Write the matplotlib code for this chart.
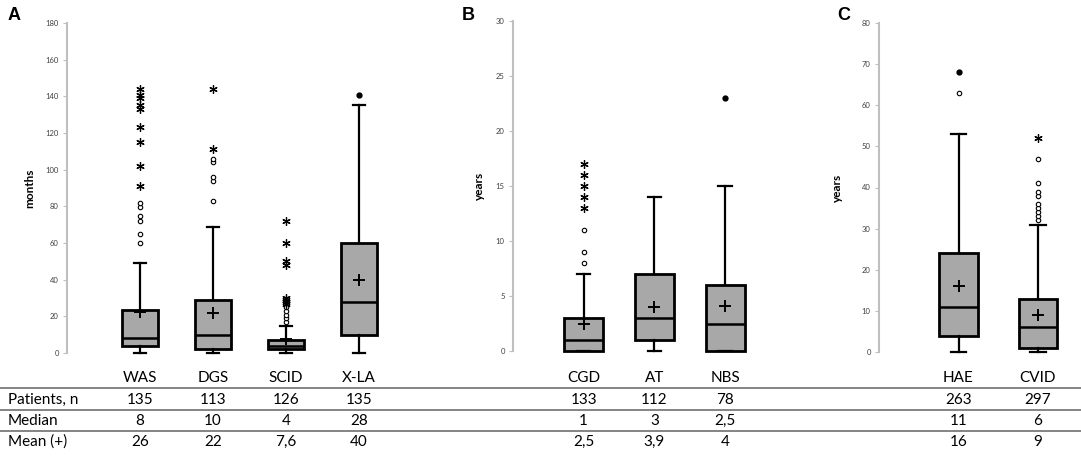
import matplotlib
matplotlib.use("Agg")
import matplotlib.pyplot as plt
import matplotlib.transforms as mtransforms
from matplotlib.lines import Line2D

W, H = 1081, 457

# panel A, age in months
a_names = ["WAS", "DGS", "SCID", "X-LA"]
a_low = [0, 0, 0, 0]
a_q1 = [4, 2, 2, 10]
a_med = [8, 10, 4, 28]
a_q3 = [23.5, 29, 7, 60]
a_high = [49, 69, 15, 135]
a_mean = [22.5, 22, 7.6, 40]
a_circ = [[60, 65, 72, 75, 79.5, 82], [83, 94, 96, 104, 106], [17, 19, 21, 23, 25], []]
a_star = [[91, 102, 115, 123, 133, 135, 139, 141, 144],
          [111, 144], [27, 28, 29, 30, 48, 50, 60, 72], []]
a_dot = [[], [], [], [140.5]]
a_n = ["135", "113", "126", "135"]
a_median_txt = ["8", "10", "4", "28"]
a_mean_txt = ["26", "22", "7,6", "40"]

# panel B, years
b_names = ["CGD", "AT", "NBS"]
b_low = [0, 0, 0]
b_q1 = [0, 1, 0]
b_med = [1, 3, 2.5]
b_q3 = [3, 7, 6]
b_high = [7, 14, 15]
b_mean = [2.5, 4, 4.1]
b_circ = [[8, 9, 11], [], []]
b_star = [[13, 14, 15, 16, 17], [], []]
b_dot = [[], [], [23]]
b_n = ["133", "112", "78"]
b_median_txt = ["1", "3", "2,5"]
b_mean_txt = ["2,5", "3,9", "4"]

# panel C, years
c_names = ["HAE", "CVID"]
c_low = [0, 0]
c_q1 = [4, 1]
c_med = [11, 6]
c_q3 = [24, 13]
c_high = [53, 31]
c_mean = [16, 9]
c_circ = [[63], [32, 33, 34, 35, 36, 38, 39, 41, 47]]
c_star = [[], [52]]
c_dot = [[68], []]
c_n = ["263", "297"]
c_median_txt = ["11", "6"]
c_mean_txt = ["16", "9"]

fig = plt.figure(figsize=(W / 100, H / 100), dpi=100)
plt.rcParams['font.family'] = ['Lato', 'DejaVu Sans']


def px_axes(left, right, top, bottom):
    return fig.add_axes([left / W, (H - bottom) / H, (right - left) / W, (bottom - top) / H])


def panel(ax, names, low, q1, med, q3, high, mean, circ, star, dot,
          ymax, ystep, xmax, width, capw, ylabel, label_px):
    stats = []
    for i in range(len(names)):
        stats.append(dict(whislo=low[i], q1=q1[i], med=med[i], q3=q3[i],
                          whishi=high[i], mean=mean[i], fliers=[]))
    pos = list(range(1, len(names) + 1))
    arts = ax.bxp(stats, positions=pos, widths=width, capwidths=capw,
                  patch_artist=True, showmeans=True, showfliers=False,
                  boxprops=dict(facecolor="#a8a8a8", edgecolor="black", linewidth=2),
                  medianprops=dict(color="black", linewidth=1.8),
                  whiskerprops=dict(color="black", linewidth=1.6),
                  capprops=dict(color="black", linewidth=1.6),
                  meanprops=dict(marker="+", markersize=9, markeredgewidth=1.4,
                                 markeredgecolor="black"))
    for k in arts:
        for a in arts[k]:
            a.set_clip_on(False)
            a.set_zorder(3)
    for i, p in enumerate(pos):
        if circ[i]:
            ax.plot([p] * len(circ[i]), circ[i], "o", ms=3.2, mfc="white",
                    mec="black", mew=0.8, zorder=4, clip_on=False)
        if star[i]:
            ax.plot([p] * len(star[i]), star[i], marker=(6, 2, 0), ls="none",
                    ms=6, mec="black", mew=0.9, zorder=4, clip_on=False)
        if dot[i]:
            ax.plot([p] * len(dot[i]), dot[i], "o", ms=3.5, mfc="black",
                    mec="black", zorder=4, clip_on=False)
    ax.set_xlim(0, xmax)
    ax.set_ylim(0, ymax)
    ax.set_yticks(range(0, ymax + 1, ystep))
    ax.set_xticks([])
    for s in ["top", "right", "bottom"]:
        ax.spines[s].set_visible(False)
    ax.spines["left"].set_color("#bfbfbf")
    ax.spines["left"].set_linewidth(1.5)
    ax.tick_params(axis="y", direction="out", length=3, width=0.8,
                   color="#bfbfbf", labelsize=5.5, labelcolor="#404040", pad=3)
    ax.set_ylabel(ylabel, fontsize=8.5, fontweight="bold")
    bb = ax.get_position()
    ax.yaxis.set_label_coords((label_px / W - bb.x0) / bb.width, 0.5)
    ax.patch.set_alpha(0)
    return pos


def fy(py):
    return (H - py) / H


def table(ax, pos, names, n, medt, meant):
    tr = mtransforms.blended_transform_factory(ax.transData, fig.transFigure)
    for i, p in enumerate(pos):
        for txt, py in [(names[i], 378), (n[i], 400), (medt[i], 421), (meant[i], 442)]:
            fig.text(p, fy(py), txt, transform=tr, ha="center", va="center",
                     fontsize=11, color="black")


axA = px_axes(67, 67 + 73 * 4.5, 23, 353)
pA = panel(axA, a_names, a_low, a_q1, a_med, a_q3, a_high, a_mean,
           a_circ, a_star, a_dot, 180, 20, 4.5, 0.5, 0.17, "months", 35)
axB = px_axes(513, 513 + 70.7 * 3.6, 21, 351)
pB = panel(axB, b_names, b_low, b_q1, b_med, b_q3, b_high, b_mean,
           b_circ, b_star, b_dot, 30, 5, 3.6, 0.55, 0.19, "years", 485)
axC = px_axes(879, 879 + 79.5 * 2.5, 23, 352)
pC = panel(axC, c_names, c_low, c_q1, c_med, c_q3, c_high, c_mean,
           c_circ, c_star, c_dot, 80, 10, 2.5, 0.49, 0.19, "years", 843)

table(axA, pA, a_names, a_n, a_median_txt, a_mean_txt)
table(axB, pB, b_names, b_n, b_median_txt, b_mean_txt)
table(axC, pC, c_names, c_n, c_median_txt, c_mean_txt)

for txt, py in [("Patients, n", 400), ("Median", 421), ("Mean (+)", 442)]:
    fig.text(8 / W, fy(py), txt, ha="left", va="center", fontsize=11)

for py in [388, 410, 431]:
    fig.add_artist(Line2D([0, 1], [fy(py), fy(py)], transform=fig.transFigure,
                          color="#707070", linewidth=1.2))

for txt, px in [("A", 8), ("B", 462), ("C", 837)]:
    fig.text(px / W, fy(15), txt, ha="left", va="center", fontsize=13,
             fontweight="bold", family=["Liberation Sans", "DejaVu Sans"])

fig.savefig("out.png", dpi=100)
